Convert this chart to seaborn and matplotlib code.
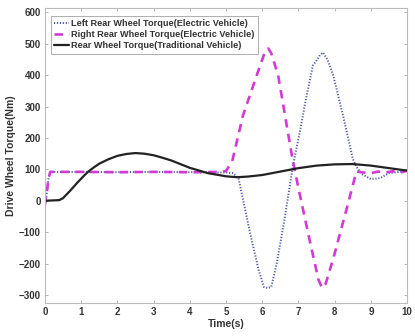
import numpy as np
import pandas as pd
import matplotlib
matplotlib.use("Agg")
import matplotlib.pyplot as plt
import seaborn as sns

# ---------------- data ----------------
left_t = [0, 0.05, 0.1, 0.15, 1, 2, 3, 4, 5, 5.2, 5.35, 5.66, 5.9, 6.05, 6.15, 6.25,
          6.4, 6.6, 6.85, 7.04, 7.2, 7.4, 7.5, 7.6, 7.68, 7.8, 7.96, 8.23, 8.5, 8.6,
          8.75, 9.0, 9.25, 9.5, 9.8, 10]
left_v = [-15, 20, 70, 92, 92, 91, 92, 91, 90, 88, 70, -100, -220, -275, -278, -275,
          -200, -70, 112, 220, 320, 431, 447, 465, 472, 450, 400, 272, 134, 108,
          85, 69, 72, 88, 92, 96]

right_t = [0, 0.05, 0.1, 0.15, 1, 2, 3, 4, 4.9, 5.0, 5.17, 5.47, 5.85, 6.08, 6.17, 6.25,
           6.44, 6.63, 6.82, 7.0, 7.32, 7.55, 7.65, 7.75, 7.96, 8.33, 8.6, 8.8, 9.0,
           9.2, 9.4, 9.6, 9.8, 10]
right_v = [-15, 20, 70, 92, 92, 91, 92, 91, 92, 95, 125, 272, 400, 476, 485, 470,
           400, 272, 144, 40, -131, -250, -278, -265, -185, -26, 93, 90, 88,
           93, 90, 94, 90, 95]

trad_t = [0, 0.4, 0.5, 0.6, 0.7, 0.8, 0.9, 1.0, 1.1, 1.2, 1.35, 1.5, 1.75, 2.0, 2.25,
          2.5, 2.75, 3.0, 3.25, 3.5, 4.0, 4.5, 5.0, 5.3, 5.6, 6.0, 6.5, 7.0, 7.5,
          8.0, 8.5, 9.0, 9.5, 10]
trad_v = [0, 2, 8, 20, 32, 45, 58, 70, 82, 93, 106, 118, 132, 143, 149,
          152, 150, 145, 137, 128, 105, 88, 78, 75, 77, 82, 93, 104, 112,
          116, 117, 112, 104, 96]

labels = ["Left Rear Wheel Torque(Electric Vehicle)",
          "Right Rear Wheel Torque(Electric Vehicle)",
          "Rear Wheel Torque(Traditional Vehicle)"]
x_ticks = list(range(0, 11))
y_ticks = list(range(-300, 601, 100))

# ---------------- plot ----------------
sns.set_style("white")
plt.rcParams['font.family'] = ['Liberation Sans', 'DejaVu Sans']

fig = plt.figure(figsize=(4.15, 3.36), dpi=100)
ax = fig.add_axes([0.108, 0.098, 0.873, 0.878])

df_l = pd.DataFrame({"t": left_t, "v": left_v})
df_r = pd.DataFrame({"t": right_t, "v": right_v})
df_b = pd.DataFrame({"t": trad_t, "v": trad_v})

sns.lineplot(data=df_l, x="t", y="v", ax=ax, color="#4a55a8", lw=1.4,
             linestyle=(0, (0.6, 0.9)), label=labels[0])
sns.lineplot(data=df_r, x="t", y="v", ax=ax, color="#d23ad6", lw=1.9,
             linestyle=(0, (3.2, 2.4)), label=labels[1])
sns.lineplot(data=df_b, x="t", y="v", ax=ax, color="#222222", lw=1.6,
             label=labels[2])

ax.set_xlim(0, 10)
ax.set_ylim(-326, 614)
ax.set_xticks(x_ticks)
ax.set_yticks(y_ticks)
ax.tick_params(direction="in", length=2.5, width=0.6, colors="#aaaaaa",
               labelcolor="#333333", labelsize=7, top=True, right=True,
               bottom=True, left=True, pad=3)
for lab in ax.get_xticklabels() + ax.get_yticklabels():
    lab.set_fontweight("bold")
for s in ax.spines.values():
    s.set_color("#bbbbbb")
    s.set_linewidth(0.8)

ax.set_xlabel("Time(s)", fontsize=7.5, fontweight="bold", color="#333333", labelpad=1)
ax.set_ylabel("Drive Wheel Torque(Nm)", fontsize=7.5, fontweight="bold",
              color="#333333", labelpad=2)

leg = ax.legend(loc="upper left", bbox_to_anchor=(0.005, 0.99),
                prop={"weight": "bold", "size": 6.6}, handlelength=1.6,
                handletextpad=0.2, borderpad=0.35, labelspacing=0.25,
                frameon=True, fancybox=False, edgecolor="#999999")
leg.get_frame().set_linewidth(0.7)
for t in leg.get_texts():
    t.set_color("#333333")

fig.savefig("out.png", dpi=100)
